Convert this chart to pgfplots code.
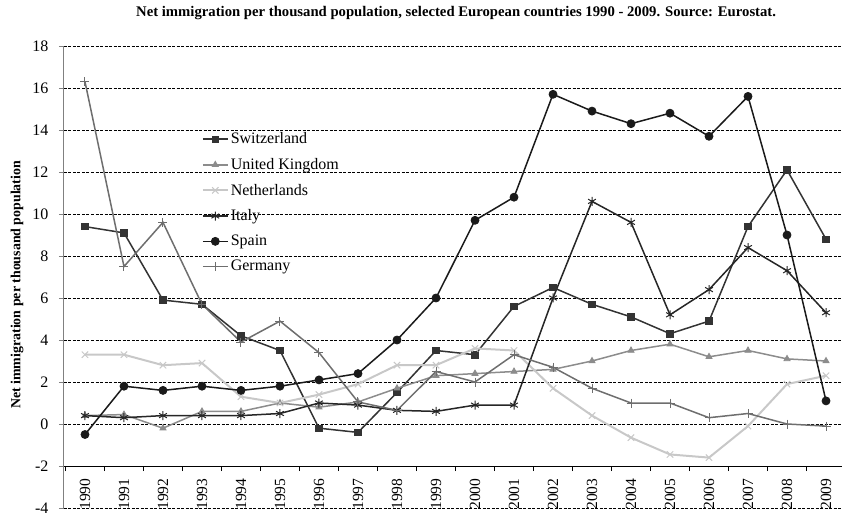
\documentclass[border=0pt]{standalone}
\usepackage{pgfplots}
\pgfplotsset{compat=1.18}
\usepackage{fontspec}
\setmainfont{Liberation Serif}
\definecolor{csw}{HTML}{333333}
\definecolor{cuk}{HTML}{8C8C8C}
\definecolor{cnl}{HTML}{C8C8C8}
\definecolor{cit}{HTML}{262626}
\definecolor{csp}{HTML}{1A1A1A}
\definecolor{cde}{HTML}{6E6E6E}
\pgfplotstableread{
x sw uk nl it sp de
0 9.4 0.4 3.3 0.4 -0.5 16.3
1 9.1 0.45 3.3 0.3 1.8 7.5
2 5.9 -0.2 2.8 0.4 1.6 9.6
3 5.7 0.6 2.9 0.4 1.8 5.7
4 4.2 0.6 1.3 0.4 1.6 3.9
5 3.5 1.0 1.0 0.5 1.8 4.9
6 -0.2 0.8 1.4 1.0 2.1 3.4
7 -0.4 1.05 1.9 0.9 2.4 1.05
8 1.5 1.7 2.8 0.65 4.0 0.65
9 3.5 2.3 2.8 0.6 6.0 2.5
10 3.3 2.4 3.6 0.9 9.7 2.0
11 5.6 2.5 3.5 0.9 10.8 3.3
12 6.5 2.6 1.7 6.0 15.7 2.7
13 5.7 3.0 0.4 10.6 14.9 1.7
14 5.1 3.5 -0.65 9.6 14.3 1.0
15 4.3 3.8 -1.45 5.2 14.8 1.0
16 4.9 3.2 -1.6 6.4 13.7 0.3
17 9.4 3.5 -0.1 8.4 15.6 0.5
18 12.1 3.1 1.9 7.3 9.0 0.0
19 8.8 3.0 2.3 5.3 1.1 -0.1
}\data
\begin{document}
\begin{tikzpicture}[x=1pt,y=1pt]
\useasboundingbox (-64,-11) rectangle (778,508);
\begin{axis}[name=main, at={(0,0)}, anchor=south west, scale only axis,
  width=778pt, height=462pt,
  xmin=-0.538, xmax=19.41, ymin=-4, ymax=18,
  ytick={-4,-2,...,18}, yticklabels={-4,-2,0,2,4,6,8,10,12,14,16,18},
  axis x line=bottom, axis y line=left,
  axis x line shift=-42pt,
  x axis line style={-, black, line width=1pt},
  y axis line style={-, gray, line width=1pt},
  xtick={0,...,19},
  xticklabels={1990,1991,1992,1993,1994,1995,1996,1997,1998,1999,2000,2001,2002,2003,2004,2005,2006,2007,2008,2009},
  major x tick style={draw=none},
  minor xtick={-0.5,0.5,...,19.5},
  minor tick length=5pt,
  minor x tick style={black, line width=0.8pt},
  xticklabel shift=4pt,
  xticklabel style={rotate=90, anchor=east, font=\fontsize{15.5}{15.5}\selectfont},
  ymajorgrids, grid style={dash pattern=on 3pt off 1.5pt, black, line width=0.6pt},
  tick align=outside, major tick length=5pt,
  ytick style={gray, line width=0.8pt},
  yticklabel style={font=\fontsize{16}{16}\selectfont, xshift=-7pt},
  ylabel={Net immigration per thousand population},
  every axis y label/.style={at={(axis description cs:-0.0604,0.483)}, rotate=90, anchor=center, font=\bfseries\fontsize{13.9}{13.9}\selectfont},
  title={Net immigration per thousand population, selected European countries 1990 - 2009. Source: Eurostat.},
  every axis title/.style={at={(axis description cs:0.504,1.0703)}, anchor=center, font=\bfseries\fontsize{14.7}{14.7}\selectfont},
  legend style={at={(axis description cs:0.173,0.821)}, anchor=north west, draw=none, fill=none, font=\fontsize{16}{16}\selectfont, row sep=9pt},
  legend cell align=left,
  legend image code/.code={\draw[mark repeat=2,mark phase=2] plot coordinates {(0pt,0pt) (12.5pt,0pt) (25pt,0pt)};},
]
\addplot[csw, line width=1.5pt, mark=square*, mark size=3.2pt, mark options={solid, fill=csw, line width=0.8pt}] table[x=x,y=sw]{\data};
\addlegendentry{Switzerland}
\addplot[cuk, line width=1.5pt, mark=triangle*, mark size=3.5pt, mark options={solid, fill=cuk, line width=0.8pt}] table[x=x,y=uk]{\data};
\addlegendentry{United Kingdom}
\addplot[cnl, line width=2pt, mark=x, mark size=4.5pt, mark options={solid, line width=1pt}] table[x=x,y=nl]{\data};
\addlegendentry{Netherlands}
\addplot[cit, line width=1.5pt, mark=asterisk, mark size=4.5pt, mark options={solid, line width=1pt}] table[x=x,y=it]{\data};
\addlegendentry{Italy}
\addplot[csp, line width=1.5pt, mark=*, mark size=4pt, mark options={solid, fill=csp, line width=0.8pt}] table[x=x,y=sp]{\data};
\addlegendentry{Spain}
\addplot[cde, line width=1.5pt, mark=+, mark size=4.5pt, mark options={solid, line width=1pt}] table[x=x,y=de]{\data};
\addlegendentry{Germany}
\end{axis}
\end{tikzpicture}
\end{document}
